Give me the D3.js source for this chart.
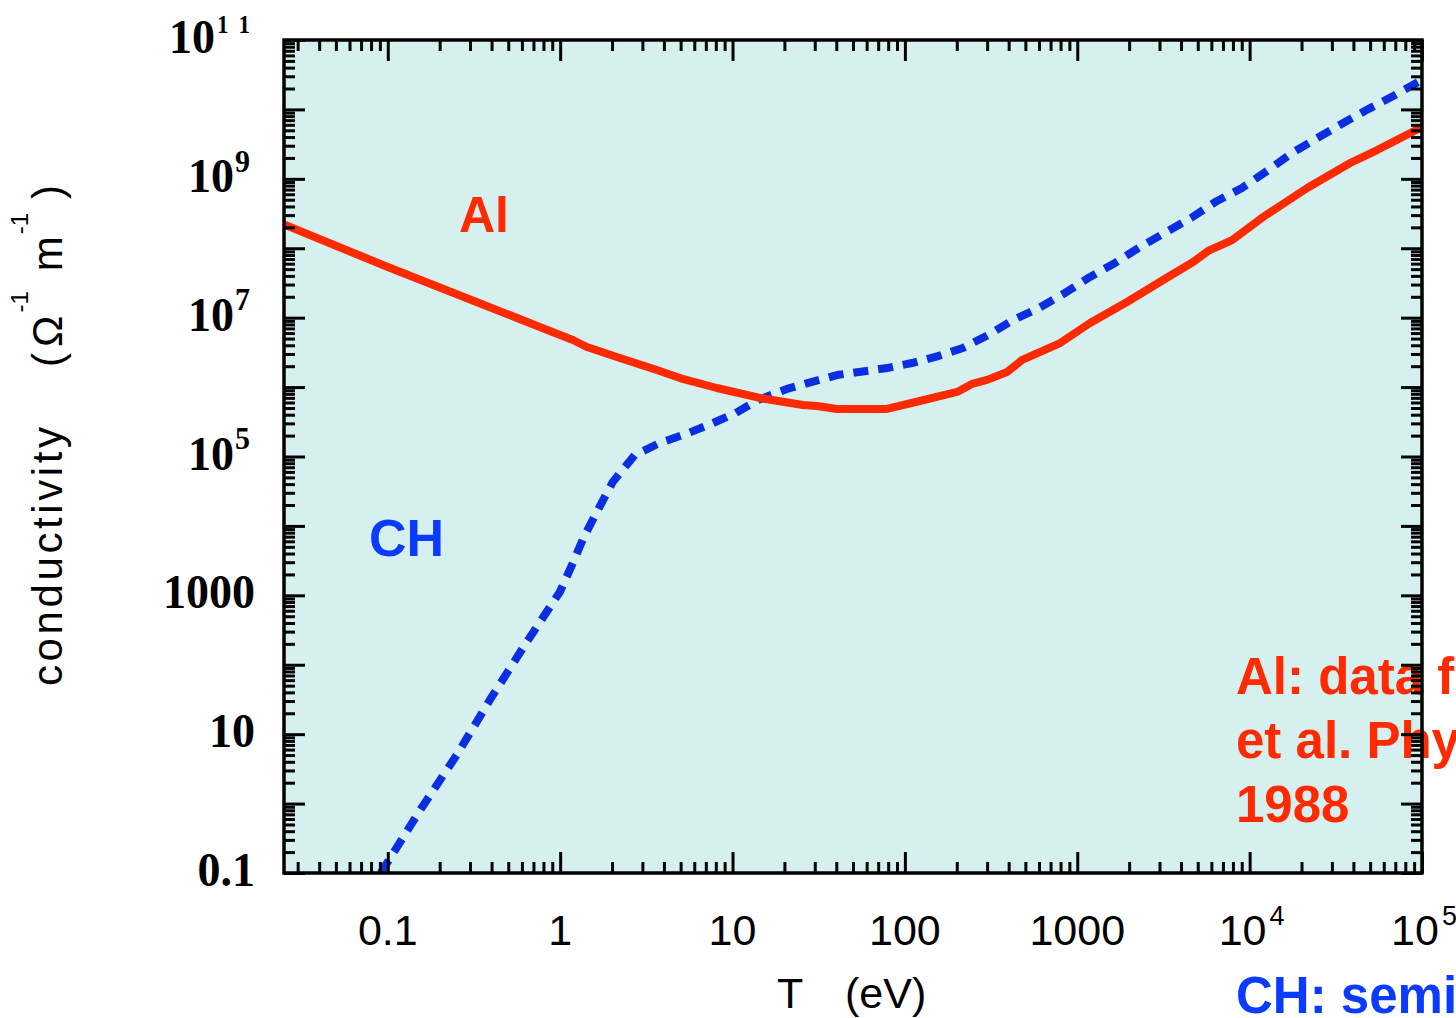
<!DOCTYPE html>
<html>
<head>
<meta charset="utf-8">
<script src="https://cdn.jsdelivr.net/npm/d3@7"></script>
<style>
  html, body { margin: 0; padding: 0; background: #ffffff; }
  svg { display: block; }
</style>
</head>
<body>
<svg id="chart" width="1456" height="1018"></svg>
<script>
// Electrical conductivity vs. temperature for Al (solid) and CH (dashed)

// Al conductivity (Ω⁻¹ m⁻¹) vs temperature (eV)
const alTemp = [0.025, 0.1, 0.356, 0.762, 1.185, 1.43, 2.22, 3.64, 4.95, 8.11, 14.4, 25.6, 30.9, 40.4,
  78.7, 122, 201, 245, 300, 392, 479, 795, 1186, 1944, 3148, 4700, 5743, 7911, 11970, 21570, 38300, 54950, 1e5];
const alSigma = [2.2e8, 5.37e7, 1.55e7, 7.35e6, 4.77e6, 3.78e6, 2.62e6, 1.76e6, 1.35e6, 9.7e5, 6.97e5, 5.52e5, 5.35e5, 4.84e5,
  4.84e5, 6.3e5, 8.5e5, 1.11e6, 1.27e6, 1.65e6, 2.46e6, 4.31e6, 8.37e6, 1.68e7, 3.49e7, 6.34e7, 9.14e7, 1.31e8, 2.82e8, 7.38e8, 1.69e9, 2.60e9, 5.58e9];

// CH conductivity (Ω⁻¹ m⁻¹) vs temperature (eV)
const chTemp = [0.091, 0.157, 0.251, 0.391, 0.624, 0.996, 1.185, 1.373, 1.655, 2.02, 2.71, 3.79, 5.37, 7.49,
  10.46, 14.04, 20.7, 28.9, 40.4, 78.7, 110, 156, 217, 304, 424, 600, 849, 1186, 1656, 2312, 3273, 4571,
  6471, 9036, 12640, 17650, 24660, 34900, 48760, 68100, 1e5];
const chSigma = [0.1, 0.865, 5.0, 31.1, 193, 1117, 2925, 6930, 1.70e4, 4.30e4, 1.05e5, 1.57e5, 2.11e5, 2.94e5,
  4.24e5, 6.52e5, 9.4e5, 1.19e6, 1.49e6, 1.88e6, 2.22e6, 2.80e6, 3.66e6, 5.62e6, 9.26e6, 1.38e7, 2.27e7,
  3.86e7, 6.14e7, 1.04e8, 1.71e8, 2.73e8, 4.80e8, 7.38e8, 1.30e9, 2.36e9, 3.87e9, 6.37e9, 1.01e10, 1.56e10, 2.66e10];

// Axis tick labels: [value, base, exponent]
const xTickLabels = [[0.1, "0.1", ""], [1, "1", ""], [10, "10", ""], [100, "100", ""], [1000, "1000", ""], [1e4, "10", "4"], [1e5, "10", "5"]];
const yTickLabels = [[1e11, "10", "11"], [1e9, "10", "9"], [1e7, "10", "7"], [1e5, "10", "5"], [1000, "1000", ""], [10, "10", ""], [0.1, "0.1", ""]];

const xDomain = [0.025, 1e5];
const yDomain = [0.1, 1e11];

const RED = "#ff2a00";
const BLUE = "#0a2ee0";
const BLUE_TEXT = "#0b3bff";

const plot = { left: 284, right: 1422, top: 40, bottom: 873 };

const svg = d3.select("#chart");

const x = d3.scaleLog().domain(xDomain).range([plot.left, plot.right]);
const y = d3.scaleLog().domain(yDomain).range([plot.bottom, plot.top]);

// log tick values: decades (major) and 2..9 multiples (minor)
function logTicks(domain) {
  const major = [], minor = [];
  const k0 = Math.floor(Math.log10(domain[0])), k1 = Math.ceil(Math.log10(domain[1]));
  for (let k = k0; k <= k1; k++) {
    for (let m = 1; m <= 9; m++) {
      const v = +(m * Math.pow(10, k)).toPrecision(6);
      if (v < domain[0] * 0.9999 || v > domain[1] * 1.0001) continue;
      (m === 1 ? major : minor).push(v);
    }
  }
  return { major, minor };
}

// plot background
svg.append("rect")
  .attr("x", plot.left).attr("y", plot.top)
  .attr("width", plot.right - plot.left).attr("height", plot.bottom - plot.top)
  .attr("fill", "#d5f0ee");

svg.append("clipPath").attr("id", "plotClip")
  .append("rect")
  .attr("x", plot.left).attr("y", plot.top)
  .attr("width", plot.right - plot.left).attr("height", plot.bottom - plot.top);

const line = d3.line().x(d => x(d[0])).y(d => y(d[1]));

const curves = svg.append("g").attr("clip-path", "url(#plotClip)");

curves.append("path")
  .datum(chTemp.map((t, i) => [t, chSigma[i]]))
  .attr("d", line)
  .attr("fill", "none")
  .attr("stroke", BLUE)
  .attr("stroke-width", 8)
  .attr("stroke-dasharray", "15,10")
  .attr("stroke-linejoin", "bevel");

curves.append("path")
  .datum(alTemp.map((t, i) => [t, alSigma[i]]))
  .attr("d", line)
  .attr("fill", "none")
  .attr("stroke", RED)
  .attr("stroke-width", 8)
  .attr("stroke-linejoin", "round");

// curve names
svg.append("text").attr("x", 459).attr("y", 232)
  .attr("font-family", "Liberation Sans, Arial, sans-serif").attr("font-weight", "bold")
  .attr("font-size", 50).attr("fill", RED).text("Al");
svg.append("text").attr("x", 369).attr("y", 556)
  .attr("font-family", "Liberation Sans, Arial, sans-serif").attr("font-weight", "bold")
  .attr("font-size", 52).attr("fill", BLUE_TEXT).text("CH");

// source notes
const notes = svg.append("g")
  .attr("font-family", "Liberation Sans, Arial, sans-serif").attr("font-weight", "bold")
  .attr("font-size", 51);
notes.append("text").attr("x", 1236).attr("y", 694).attr("fill", RED).text("Al: data from Milchberg");
notes.append("text").attr("x", 1236).attr("y", 758).attr("fill", RED).text("et al. Phys. Rev. Lett.");
notes.append("text").attr("x", 1236).attr("y", 822).attr("fill", RED).text("1988");
notes.append("text").attr("x", 1236).attr("y", 1013).attr("fill", BLUE_TEXT).text("CH: semi-empirical model");

// ticks on all four sides, pointing inward
const xt = logTicks(xDomain), yt = logTicks(yDomain);
const MAJ = 21, MIN = 11;

function drawAxis(axisFn, scale, values, size, transform) {
  const g = svg.append("g")
    .attr("transform", transform)
    .call(axisFn(scale).tickValues(values).tickSizeInner(size).tickSizeOuter(0).tickFormat(""));
  g.select(".domain").remove();
  g.selectAll(".tick line").attr("stroke", "#000").attr("stroke-width", 3);
}

drawAxis(d3.axisBottom, x, xt.major, -MAJ, `translate(0,${plot.bottom})`);
drawAxis(d3.axisBottom, x, xt.minor, -MIN, `translate(0,${plot.bottom})`);
drawAxis(d3.axisTop, x, xt.major, -MAJ, `translate(0,${plot.top})`);
drawAxis(d3.axisTop, x, xt.minor, -MIN, `translate(0,${plot.top})`);
drawAxis(d3.axisLeft, y, yt.major, -MAJ, `translate(${plot.left},0)`);
drawAxis(d3.axisLeft, y, yt.minor, -MIN, `translate(${plot.left},0)`);
drawAxis(d3.axisRight, y, yt.major, -MAJ, `translate(${plot.right},0)`);
drawAxis(d3.axisRight, y, yt.minor, -MIN, `translate(${plot.right},0)`);

// frame
svg.append("rect")
  .attr("x", plot.left).attr("y", plot.top)
  .attr("width", plot.right - plot.left).attr("height", plot.bottom - plot.top)
  .attr("fill", "none").attr("stroke", "#000").attr("stroke-width", 3.5);

// x tick labels
const xl = svg.append("g")
  .attr("font-family", "Liberation Sans, Arial, sans-serif")
  .attr("font-size", 43).attr("fill", "#000");
xTickLabels.forEach(([v, base, exp]) => {
  const t = xl.append("text").attr("x", x(v) + (exp ? 2 : 0)).attr("y", 945).attr("text-anchor", "middle");
  t.append("tspan").text(base);
  if (exp) t.append("tspan").attr("font-size", 27).attr("dy", -20).attr("dx", 3).text(exp);
});

// y tick labels (serif bold, slightly tall)
const yl = svg.append("g")
  .attr("font-family", "Liberation Serif, Times New Roman, serif").attr("font-weight", "bold")
  .attr("font-size", 46).attr("fill", "#000");
yTickLabels.forEach(([v, base, exp]) => {
  const ax = exp ? 250 : 255, ay = y(v) + 13;
  const t = yl.append("text")
    .attr("transform", `translate(${ax},${ay}) scale(1,1.07)`)
    .attr("text-anchor", "end");
  t.append("tspan").text(base);
  if (exp === "11") {
    // two-digit exponent, set with a wide gap between the digits
    t.append("tspan").attr("font-size", 23).attr("dy", -19).attr("dx", 2).text(exp[0]);
    t.append("tspan").attr("font-size", 23).attr("dx", 10).text(exp[1]);
  } else if (exp) {
    t.append("tspan").attr("font-size", 30).attr("dy", -19).attr("dx", 1).text(exp);
  }
});

// axis titles
const titles = svg.append("g")
  .attr("font-family", "Liberation Sans, Arial, sans-serif")
  .attr("font-size", 43).attr("fill", "#000");
titles.append("text").attr("x", 777).attr("y", 1008).text("T");
titles.append("text").attr("x", 845).attr("y", 1008).text("(eV)");

const yTitle = titles.append("text")
  .attr("transform", "translate(62,686) rotate(-90)")
  .attr("font-size", 42);
yTitle.append("tspan").attr("letter-spacing", 3.6).text("conductivity");

const unit = titles.append("text")
  .attr("transform", "translate(62,367) rotate(-90)")
  .attr("font-size", 42);
unit.append("tspan").attr("letter-spacing", 6).text("(Ω");
unit.append("tspan").attr("font-size", 24).attr("dy", -34).attr("dx", -3).text("-1");
unit.append("tspan").attr("dy", 34).attr("dx", 20).text("m");
unit.append("tspan").attr("font-size", 24).attr("dy", -34).attr("dx", 2).text("-1");
unit.append("tspan").attr("dy", 34).attr("dx", 14).text(")");
</script>
</body>
</html>
